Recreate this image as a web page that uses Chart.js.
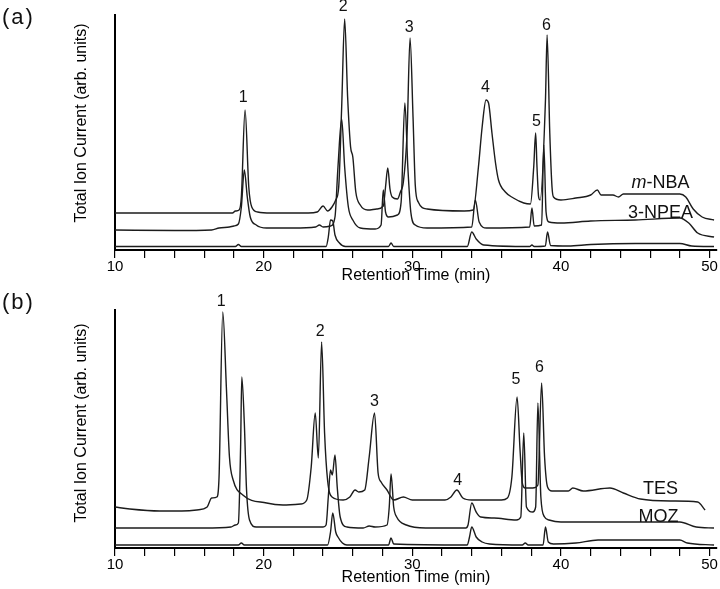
<!DOCTYPE html>
<html>
<head>
<meta charset="utf-8">
<script src="https://cdn.jsdelivr.net/npm/chart.js@4.4.1/dist/chart.umd.min.js"></script>
<style>
  body { margin: 0; background: #fff; width: 720px; height: 589px; overflow: hidden; position: relative; }
  .panel { position: absolute; left: 0; width: 720px; }
</style>
</head>
<body>
<div class="panel" style="top:0;height:290px"><canvas id="chartA" width="720" height="290"></canvas></div>
<div class="panel" style="top:290px;height:299px"><canvas id="chartB" width="720" height="299"></canvas></div>
<script>
// ---- panel (a) : m-NBA, 3-NPEA and the reference trace ----
const nbaTime = [10, 14, 17.9, 18.1, 18.35, 18.5, 18.75, 19.0, 19.2, 19.6, 20.5, 23.0, 23.6, 24.0, 24.3, 24.6, 24.85, 25.05, 25.25, 25.45, 25.65, 25.85, 26.0, 26.2, 26.5, 27.0, 27.6, 28.05, 28.2, 28.35, 28.5, 28.65, 29.0, 29.2, 29.4, 29.65, 29.85, 30.05, 30.2, 30.4, 31.0, 33.5, 34.1, 34.45, 34.7, 34.96, 35.13, 35.36, 35.6, 35.8, 36.26, 36.8, 37.5, 37.95, 38.17, 38.3, 38.39, 38.5, 38.6, 38.96, 39.07, 39.25, 39.4, 39.5, 40.0, 41.0, 42.0, 42.45, 42.7, 43.5, 43.87, 44.2, 46.0, 48.0, 48.4, 48.9, 49.5, 50.3]
const nbaTic = [34, 34, 34, 36, 37, 50, 137, 60, 40, 35, 34, 34, 35, 41, 36, 40, 47, 60, 140, 228, 150, 100, 90, 55, 42, 37, 38, 41, 60, 79, 58, 50, 48, 55, 65, 114, 209, 130, 62, 45, 38, 36, 37, 80, 120, 147, 144, 114, 84, 67, 55, 49, 44, 43, 80, 114, 80, 50, 47, 147, 212, 114, 60, 50, 47, 49, 52, 57, 52, 52, 50, 53, 53, 53, 50, 38, 30, 27]

const npeaTime = [10, 14, 16.5, 17.0, 17.7, 18.0, 18.3, 18.5, 18.7, 18.9, 19.1, 19.5, 20.2, 22.0, 23.5, 23.75, 24.0, 24.5, 24.8, 25.0, 25.25, 25.45, 25.7, 26.0, 26.5, 27.5, 27.9, 28.05, 28.2, 28.4, 29.0, 29.25, 29.5, 29.7, 29.9, 30.2, 31.0, 34.0, 34.24, 34.5, 35.0, 37.9, 38.05, 38.2, 38.7, 38.85, 39.0, 39.2, 40.0, 42.0, 45.0, 48.0, 48.6, 49.2, 50.3]
const npeaTic = [17, 16.5, 17, 19, 20, 21, 23, 40, 77, 50, 30, 22, 19, 19, 20, 22, 20, 21, 30, 80, 128, 80, 40, 27, 19, 18, 22, 57, 35, 30, 32, 45, 144, 80, 35, 22, 19, 20, 47, 25, 19, 20, 39, 21, 22, 102, 35, 25, 24, 26, 27, 29, 24, 14, 10]

const refTimeA = [10, 18.1, 18.3, 18.5, 24.2, 24.35, 24.5, 24.65, 24.8, 25.1, 25.5, 28.4, 28.57, 28.75, 33.7, 34.0, 34.3, 34.8, 37.9, 38.05, 38.2, 38.95, 39.1, 39.3, 40.5, 42.0, 45.0, 48.0, 48.8, 50.3]
const refTicA = [0.5, 0.5, 2.5, 0.5, 0.5, 10, 27, 26, 12, 4, 0.5, 0.5, 4, 0.5, 0.5, 15, 8, 2, 0.5, 2, 0.5, 1, 15, 1.5, 1, 2.5, 3.5, 3.5, 1, 0.5]

const peakNamesA = ["1", "2", "3", "4", "5", "6"]
const peakTimesA = [18.62, 25.35, 29.8, 34.92, 38.35, 39.02]
const peakLevelsA = [149, 240, 219, 159, 125, 221]

// ---- panel (b) : TES, MOZ and the reference trace ----
const tesTime = [10, 11, 13, 14.5, 15.5, 16.2, 16.5, 16.85, 17.0, 17.25, 17.5, 17.7, 17.95, 18.6, 20.2, 21.3, 22.5, 22.9, 23.2, 23.47, 23.68, 23.9, 24.1, 24.3, 24.6, 25.35, 25.8, 26.15, 26.4, 26.8, 27.1, 27.46, 27.7, 27.9, 28.3, 28.75, 29.4, 30.0, 32.2, 32.6, 33.0, 33.4, 34.0, 36.0, 36.4, 36.7, 37.05, 37.25, 37.4, 37.6, 38.1, 38.45, 38.7, 38.9, 39.1, 39.4, 40.5, 40.8, 41.5, 43.3, 44.2, 45.35, 47.5, 49.2, 49.7]
const tesTic = [40, 38, 36, 36, 37, 40, 49, 50, 70, 235, 157, 90, 67, 52, 44, 42, 43, 47, 80, 134, 89, 205, 114, 67, 50, 47, 50, 57, 55, 57, 90, 134, 74, 65, 57, 47, 50, 47, 47, 50, 57, 49, 47, 47, 49, 70, 150, 97, 64, 59, 59, 62, 164, 90, 60, 56, 56, 59, 56, 59, 54, 48, 46, 45, 37]

const mozTime = [10, 16, 17.8, 18.1, 18.3, 18.45, 18.53, 18.7, 18.85, 19.05, 19.5, 24.0, 24.2, 24.35, 24.5, 24.62, 24.8, 24.95, 25.15, 25.6, 26.7, 27.1, 27.5, 28.3, 28.45, 28.57, 28.75, 28.95, 29.6, 30.9, 33.6, 33.75, 34.0, 34.3, 34.6, 35.5, 37.0, 37.3, 37.5, 37.68, 38.1, 38.3, 38.45, 38.65, 38.9, 39.2, 40.0, 48.0, 49.1, 50.3]
const mozTic = [19, 19, 20, 22, 24, 100, 170, 124, 57, 27, 20, 20, 22, 50, 77, 72, 92, 60, 30, 20, 19, 21, 20, 22, 40, 73, 40, 30, 22, 19, 19, 22, 44, 35, 30, 29, 27, 30, 114, 40, 35, 40, 144, 50, 30, 27, 25, 25, 20, 19]

const refTimeB = [10, 18.3, 18.5, 18.7, 24.3, 24.5, 24.65, 24.85, 25.0, 25.3, 25.6, 28.4, 28.57, 28.75, 33.7, 33.85, 34.0, 34.3, 34.7, 35.2, 37.4, 37.6, 37.8, 38.8, 38.96, 39.15, 39.5, 41.0, 42.5, 46.0, 48.0, 48.5, 50.3]
const refTicB = [2, 2, 4, 2, 2, 15, 34, 15, 10, 4, 2, 2, 9, 3, 2, 10, 20, 10, 5, 3, 2, 4, 2, 2, 20, 5, 3, 4, 7, 7, 7, 4, 2]

const peakNamesB = ["1", "2", "3", "4", "5", "6"]
const peakTimesB = [17.14, 23.8, 27.46, 33.05, 36.98, 38.55]
const peakLevelsB = [245, 215, 145, 66, 167, 179]

const FONT = '"Liberation Sans", Arial, sans-serif'
const LINE = "#1c1c1c"

const toPoints = (t, v) => t.map((x, i) => ({ x, y: v[i] }))

const trace = (t, v) => ({
  data: toPoints(t, v),
  borderColor: LINE,
  borderWidth: 1.4,
  pointRadius: 0,
  fill: false,
  cubicInterpolationMode: "monotone",
})

// peak numbers, trace names, y title and the panel letter
const labelPlugin = {
  id: "peakLabels",
  afterDatasetsDraw(chart, args, opts) {
    const { ctx, scales: { x, y } } = chart
    ctx.save()
    ctx.fillStyle = "#111"
    ctx.textBaseline = "middle"

    ctx.textAlign = "center"
    ctx.font = "16px " + FONT
    opts.names.forEach((n, i) => {
      ctx.fillText(n, x.getPixelForValue(opts.times[i]), y.getPixelForValue(opts.levels[i]))
    })

    ctx.font = "18px " + FONT
    opts.traces.forEach((tr) => {
      const cx = x.getPixelForValue(tr.t)
      const cy = y.getPixelForValue(tr.v)
      if (tr.italic) {
        ctx.font = "italic 18px " + FONT
        const w1 = ctx.measureText(tr.italic).width
        ctx.font = "18px " + FONT
        const w2 = ctx.measureText(tr.text).width
        const left = cx - (w1 + w2) / 2
        ctx.textAlign = "left"
        ctx.font = "italic 18px " + FONT
        ctx.fillText(tr.italic, left, cy)
        ctx.font = "18px " + FONT
        ctx.fillText(tr.text, left + w1, cy)
        ctx.textAlign = "center"
      } else {
        ctx.fillText(tr.text, cx, cy)
      }
    })

    // y axis title, a little above the middle of the axis as in the figure
    ctx.save()
    ctx.fillStyle = "#000"
    ctx.font = "16px " + FONT
    ctx.translate(82, opts.titleY)
    ctx.rotate(-Math.PI / 2)
    ctx.textAlign = "center"
    ctx.fillText("Total Ion Current (arb. units)", 0, 0)
    ctx.restore()

    ctx.textAlign = "left"
    ctx.font = "22px " + FONT
    if ("letterSpacing" in ctx) ctx.letterSpacing = "2px"
    ctx.fillText(opts.panel, 2, opts.panelY)
    ctx.restore()
  },
}

const makeChart = (id, cfg) => new Chart(document.getElementById(id), {
  type: "line",
  data: { datasets: cfg.datasets },
  plugins: [labelPlugin],
  options: {
    responsive: false,
    animation: false,
    events: [],
    layout: { padding: { left: 0, right: 3, top: cfg.top, bottom: 0 } },
    plugins: {
      legend: { display: false },
      tooltip: { enabled: false },
      peakLabels: cfg.labels,
    },
    scales: {
      x: {
        type: "linear",
        min: 10,
        max: 50.5,
        afterFit: (s) => { s.height = cfg.xHeight },
        border: { display: true, color: "#000", width: 2 },
        grid: { display: true, drawOnChartArea: false, drawTicks: true, tickLength: 8, color: "#000", lineWidth: 1.2 },
        ticks: {
          stepSize: 2,
          autoSkip: false,
          maxRotation: 0,
          includeBounds: false,
          padding: 0,
          color: "#000",
          font: { family: FONT, size: 15 },
          callback: (v) => (v % 10 === 0 ? v : ""),
        },
        title: {
          display: true,
          text: "Retention Time (min)",
          color: "#000",
          font: { family: FONT, size: 16 },
          padding: { top: 0, bottom: cfg.titlePad },
        },
      },
      y: {
        min: cfg.yMin,
        max: cfg.yMax,
        afterFit: (s) => { s.width = 115 },
        border: { display: true, color: "#000", width: 2 },
        grid: { display: false },
        ticks: { display: false },
      },
    },
  },
})

makeChart("chartA", {
  top: 15,
  xHeight: 40,
  titlePad: 5,
  yMin: -3,
  yMax: 232,
  datasets: [trace(nbaTime, nbaTic), trace(npeaTime, npeaTic), trace(refTimeA, refTicA)],
  labels: {
    names: peakNamesA,
    times: peakTimesA,
    levels: peakLevelsA,
    traces: [
      { italic: "m", text: "-NBA", t: 46.7, v: 64 },
      { text: "3-NPEA", t: 46.7, v: 34 },
    ],
    panel: "(a)",
    panelY: 18,
    titleY: 123,
  },
})

makeChart("chartB", {
  top: 20,
  xHeight: 41,
  titlePad: 2,
  yMin: -1,
  yMax: 237,
  datasets: [trace(tesTime, tesTic), trace(mozTime, mozTic), trace(refTimeB, refTicB)],
  labels: {
    names: peakNamesB,
    times: peakTimesB,
    levels: peakLevelsB,
    traces: [
      { text: "TES", t: 46.7, v: 58 },
      { text: "MOZ", t: 46.56, v: 30 },
    ],
    panel: "(b)",
    panelY: 13,
    titleY: 133,
  },
})
</script>
</body>
</html>
